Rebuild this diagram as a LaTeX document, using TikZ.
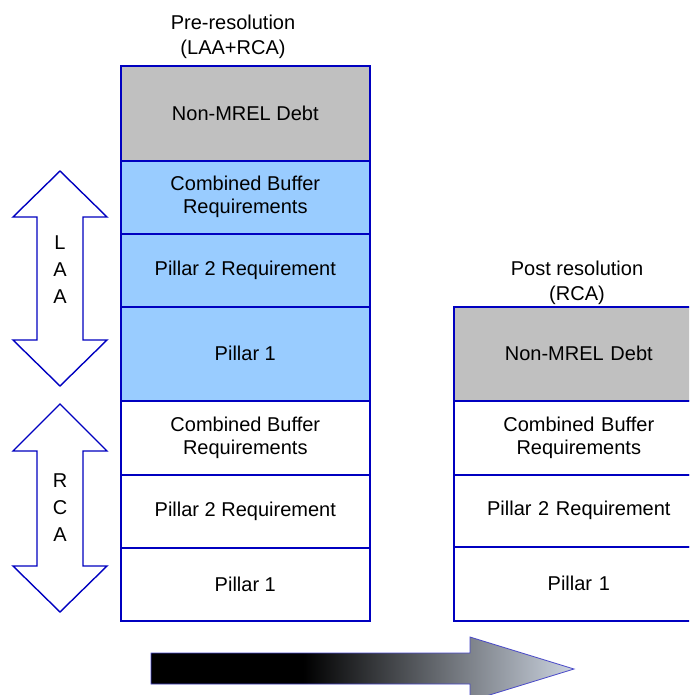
\documentclass[tikz,border=0pt]{standalone}
\usepackage{fontspec}
\setmainfont{Liberation Sans}
\definecolor{bordblue}{HTML}{0000C0}
\definecolor{cellblue}{HTML}{99CCFF}
\definecolor{cellgray}{HTML}{C0C0C0}
\definecolor{shadeend}{HTML}{CCD4E0}
\definecolor{arrbord}{HTML}{4848C8}
\pgfdeclarehorizontalshading{barrowshade}{100bp}{color(0bp)=(black); color(43bp)=(black); color(75bp)=(shadeend); color(100bp)=(shadeend)}
\begin{document}
\begin{tikzpicture}[x=1pt,y=-1pt,
  cell/.style={draw=bordblue, line width=1.6pt, rectangle, inner sep=0pt, anchor=north west,
     align=center, font=\fontsize{20}{23}\selectfont},
  title/.style={align=center, font=\fontsize{20}{24.5}\selectfont, inner sep=0pt},
  dblarrow/.style={draw=bordblue, line width=1.4pt, fill=white},
  arrlabel/.style={align=center, font=\fontsize{20}{27}\selectfont, inner sep=0pt}]
\useasboundingbox (0,0) rectangle (689,695);
\clip (0,0) rectangle (689,695);

% left column
\node[cell, fill=cellgray, minimum width=249pt, minimum height=95pt] (l1) at (120,65) {Non-MREL Debt};
\node[cell, fill=cellblue, minimum width=249pt, minimum height=73pt] (l2) at (120,160) {Combined Buffer\\Requirements};
\node[cell, fill=cellblue, minimum width=249pt, minimum height=73pt] (l3) at (120,233) {Pillar 2 Requirement};
\node[cell, fill=cellblue, minimum width=249pt, minimum height=94pt] (l4) at (120,306) {Pillar 1};
\node[cell, fill=white, minimum width=249pt, minimum height=74pt] (l5) at (120,400) {Combined Buffer\\Requirements};
\node[cell, fill=white, minimum width=249pt, minimum height=73pt] (l6) at (120,474) {Pillar 2 Requirement};
\node[cell, fill=white, minimum width=249pt, minimum height=73pt] (l7) at (120,547) {Pillar 1};

% right column (extends past the right edge)
\node[cell, fill=cellgray, minimum width=250pt, minimum height=94pt, text width=236pt] (r1) at (453,306) {Non-MREL Debt};
\node[cell, fill=white, minimum width=250pt, minimum height=74pt, text width=236pt] (r2) at (453,400) {Combined Buffer\\Requirements};
\node[cell, fill=white, minimum width=250pt, minimum height=72pt, text width=236pt] (r3) at (453,474) {Pillar 2 Requirement};
\node[cell, fill=white, minimum width=250pt, minimum height=74pt, text width=236pt] (r4) at (453,546) {Pillar 1};

% titles
\node[title] (t1) at (233,37) {Pre-resolution\\(LAA+RCA)};
\node[title] (t2) at (577,283) {Post resolution\\(RCA)};

% double arrows
\draw[dblarrow] (60,171) -- (107,217) -- (83,217) -- (83,340) -- (107,340) -- (60,386)
  -- (13,340) -- (37,340) -- (37,217) -- (13,217) -- cycle;
\node[arrlabel] (laa) at (60,270) {L\\A\\A};
\draw[dblarrow] (60,404) -- (107,451) -- (83,451) -- (83,566) -- (107,566) -- (60,612)
  -- (13,566) -- (37,566) -- (37,451) -- (13,451) -- cycle;
\node[arrlabel] (rca) at (60,508) {R\\C\\A};

% bottom progression arrow
\draw[draw=arrbord, line width=0.8pt, shading=barrowshade]
  (151,653) -- (470,653) -- (470,637) -- (574,669) -- (470,701) -- (470,684) -- (151,684) -- cycle;
\end{tikzpicture}
\end{document}
